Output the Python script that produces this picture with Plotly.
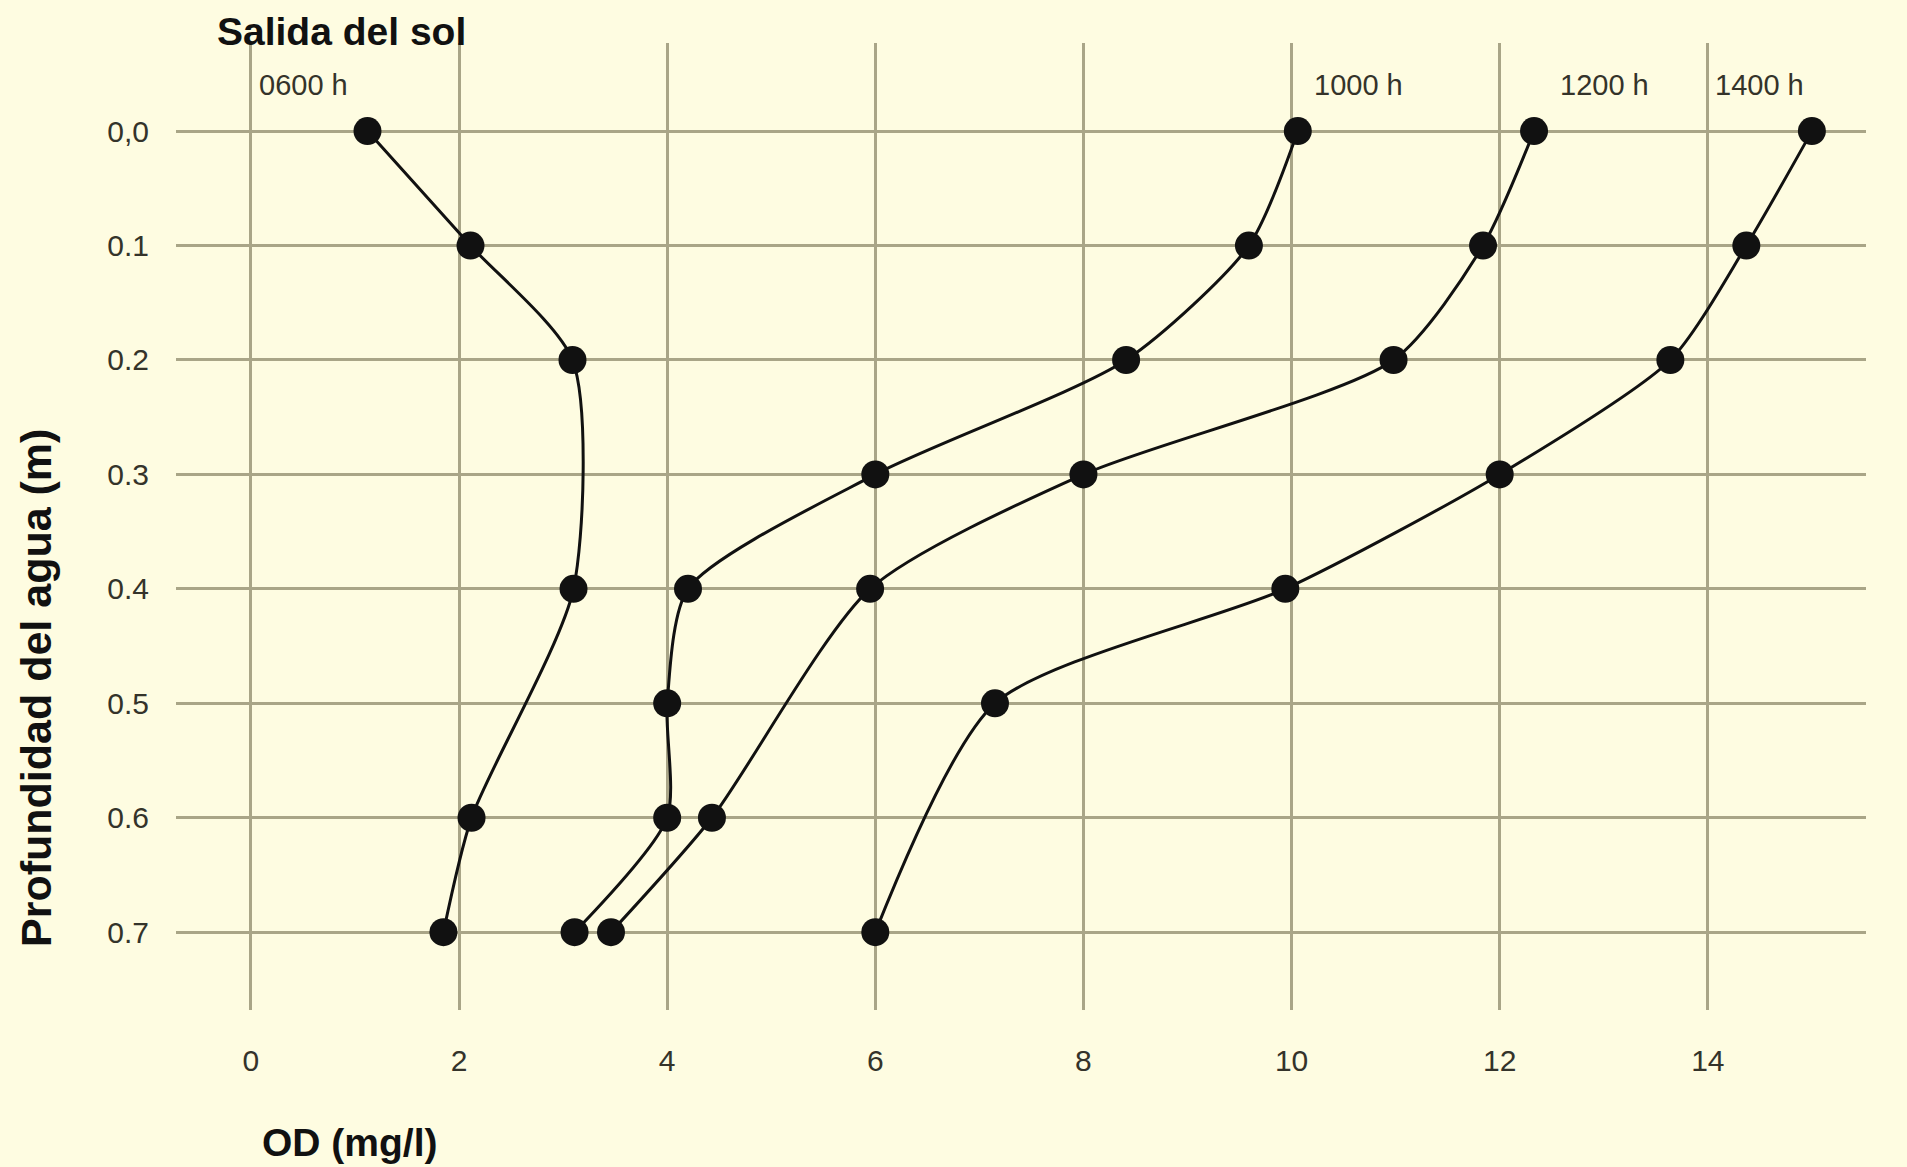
import plotly.graph_objects as go

# Dissolved oxygen (mg/l) against water depth (m) at four times of day
depth_0600 = [0.0, 0.1, 0.2, 0.4, 0.6, 0.7]
od_0600 = [1.12, 2.11, 3.09, 3.10, 2.12, 1.85]

depth_1000 = [0.0, 0.1, 0.2, 0.3, 0.4, 0.5, 0.6, 0.7]
od_1000 = [10.06, 9.59, 8.41, 6.0, 4.2, 4.0, 4.0, 3.11]

depth_1200 = [0.0, 0.1, 0.2, 0.3, 0.4, 0.6, 0.7]
od_1200 = [12.33, 11.84, 10.98, 8.0, 5.95, 4.43, 3.46]

depth_1400 = [0.0, 0.1, 0.2, 0.3, 0.4, 0.5, 0.7]
od_1400 = [15.0, 14.37, 13.64, 12.0, 9.94, 7.15, 6.0]

series_labels = ["0600 h", "1000 h", "1200 h", "1400 h"]
label_x = [0.06, 10.2, 12.56, 14.05]

x_ticks = [0, 2, 4, 6, 8, 10, 12, 14]
y_ticks = [0.0, 0.1, 0.2, 0.3, 0.4, 0.5, 0.6, 0.7]
y_ticktext = ["0,0", "0.1", "0.2", "0.3", "0.4", "0.5", "0.6", "0.7"]

BG = "#FEFCE1"
GRID = "#A9A587"
INK = "#111111"
TICK_INK = "#34332A"

fig = go.Figure()
for xs, ys, name in [
    (od_0600, depth_0600, series_labels[0]),
    (od_1000, depth_1000, series_labels[1]),
    (od_1200, depth_1200, series_labels[2]),
    (od_1400, depth_1400, series_labels[3]),
]:
    fig.add_trace(go.Scatter(
        x=xs, y=ys, name=name, mode="lines+markers",
        line=dict(color=INK, width=3, shape="spline", smoothing=0.7),
        marker=dict(color=INK, size=28),
        showlegend=False, cliponaxis=False,
    ))

# Time-of-day labels above each profile
for txt, lx in zip(series_labels, label_x):
    fig.add_annotation(
        x=lx, xref="x", y=0.9566, yref="paper",
        text=txt, showarrow=False, xanchor="left", yanchor="middle",
        font=dict(family="Liberation Sans", size=29, color=TICK_INK),
    )

fig.add_annotation(
    x=-0.35, xref="x", y=1.012, yref="paper",
    text="<b>Salida del sol</b>", showarrow=False,
    xanchor="left", yanchor="middle",
    font=dict(family="Liberation Sans", size=39, color=INK),
)

fig.add_annotation(
    x=0.1026, xref="paper", y=-0.1375, yref="paper",
    text="<b>OD (mg/l)</b>", showarrow=False,
    xanchor="center", yanchor="middle",
    font=dict(family="Liberation Sans", size=39, color=INK),
)

fig.add_annotation(
    x=0, xref="paper", xshift=-140, y=0.333, yref="paper",
    text="<b>Profundidad del agua (m)</b>", showarrow=False, textangle=-90,
    xanchor="center", yanchor="middle",
    font=dict(family="Liberation Sans", size=43, color=INK),
)

fig.update_xaxes(
    range=[-0.72, 15.52], tickvals=x_ticks,
    showgrid=True, gridcolor=GRID, gridwidth=3,
    zeroline=False, showline=False, ticks="",
    ticklabelstandoff=30,
    tickfont=dict(family="Liberation Sans", size=30, color=TICK_INK),
)
fig.update_yaxes(
    range=[0.768, -0.077], tickvals=y_ticks, ticktext=y_ticktext,
    showgrid=True, gridcolor=GRID, gridwidth=3,
    zeroline=False, showline=False, ticks="",
    ticklabelstandoff=26,
    tickfont=dict(family="Liberation Sans", size=30, color=TICK_INK),
)

fig.update_layout(
    width=1907, height=1167,
    margin=dict(l=176, r=41, t=43, b=157),
    paper_bgcolor=BG, plot_bgcolor=BG,
)

fig.write_html("out.html")
